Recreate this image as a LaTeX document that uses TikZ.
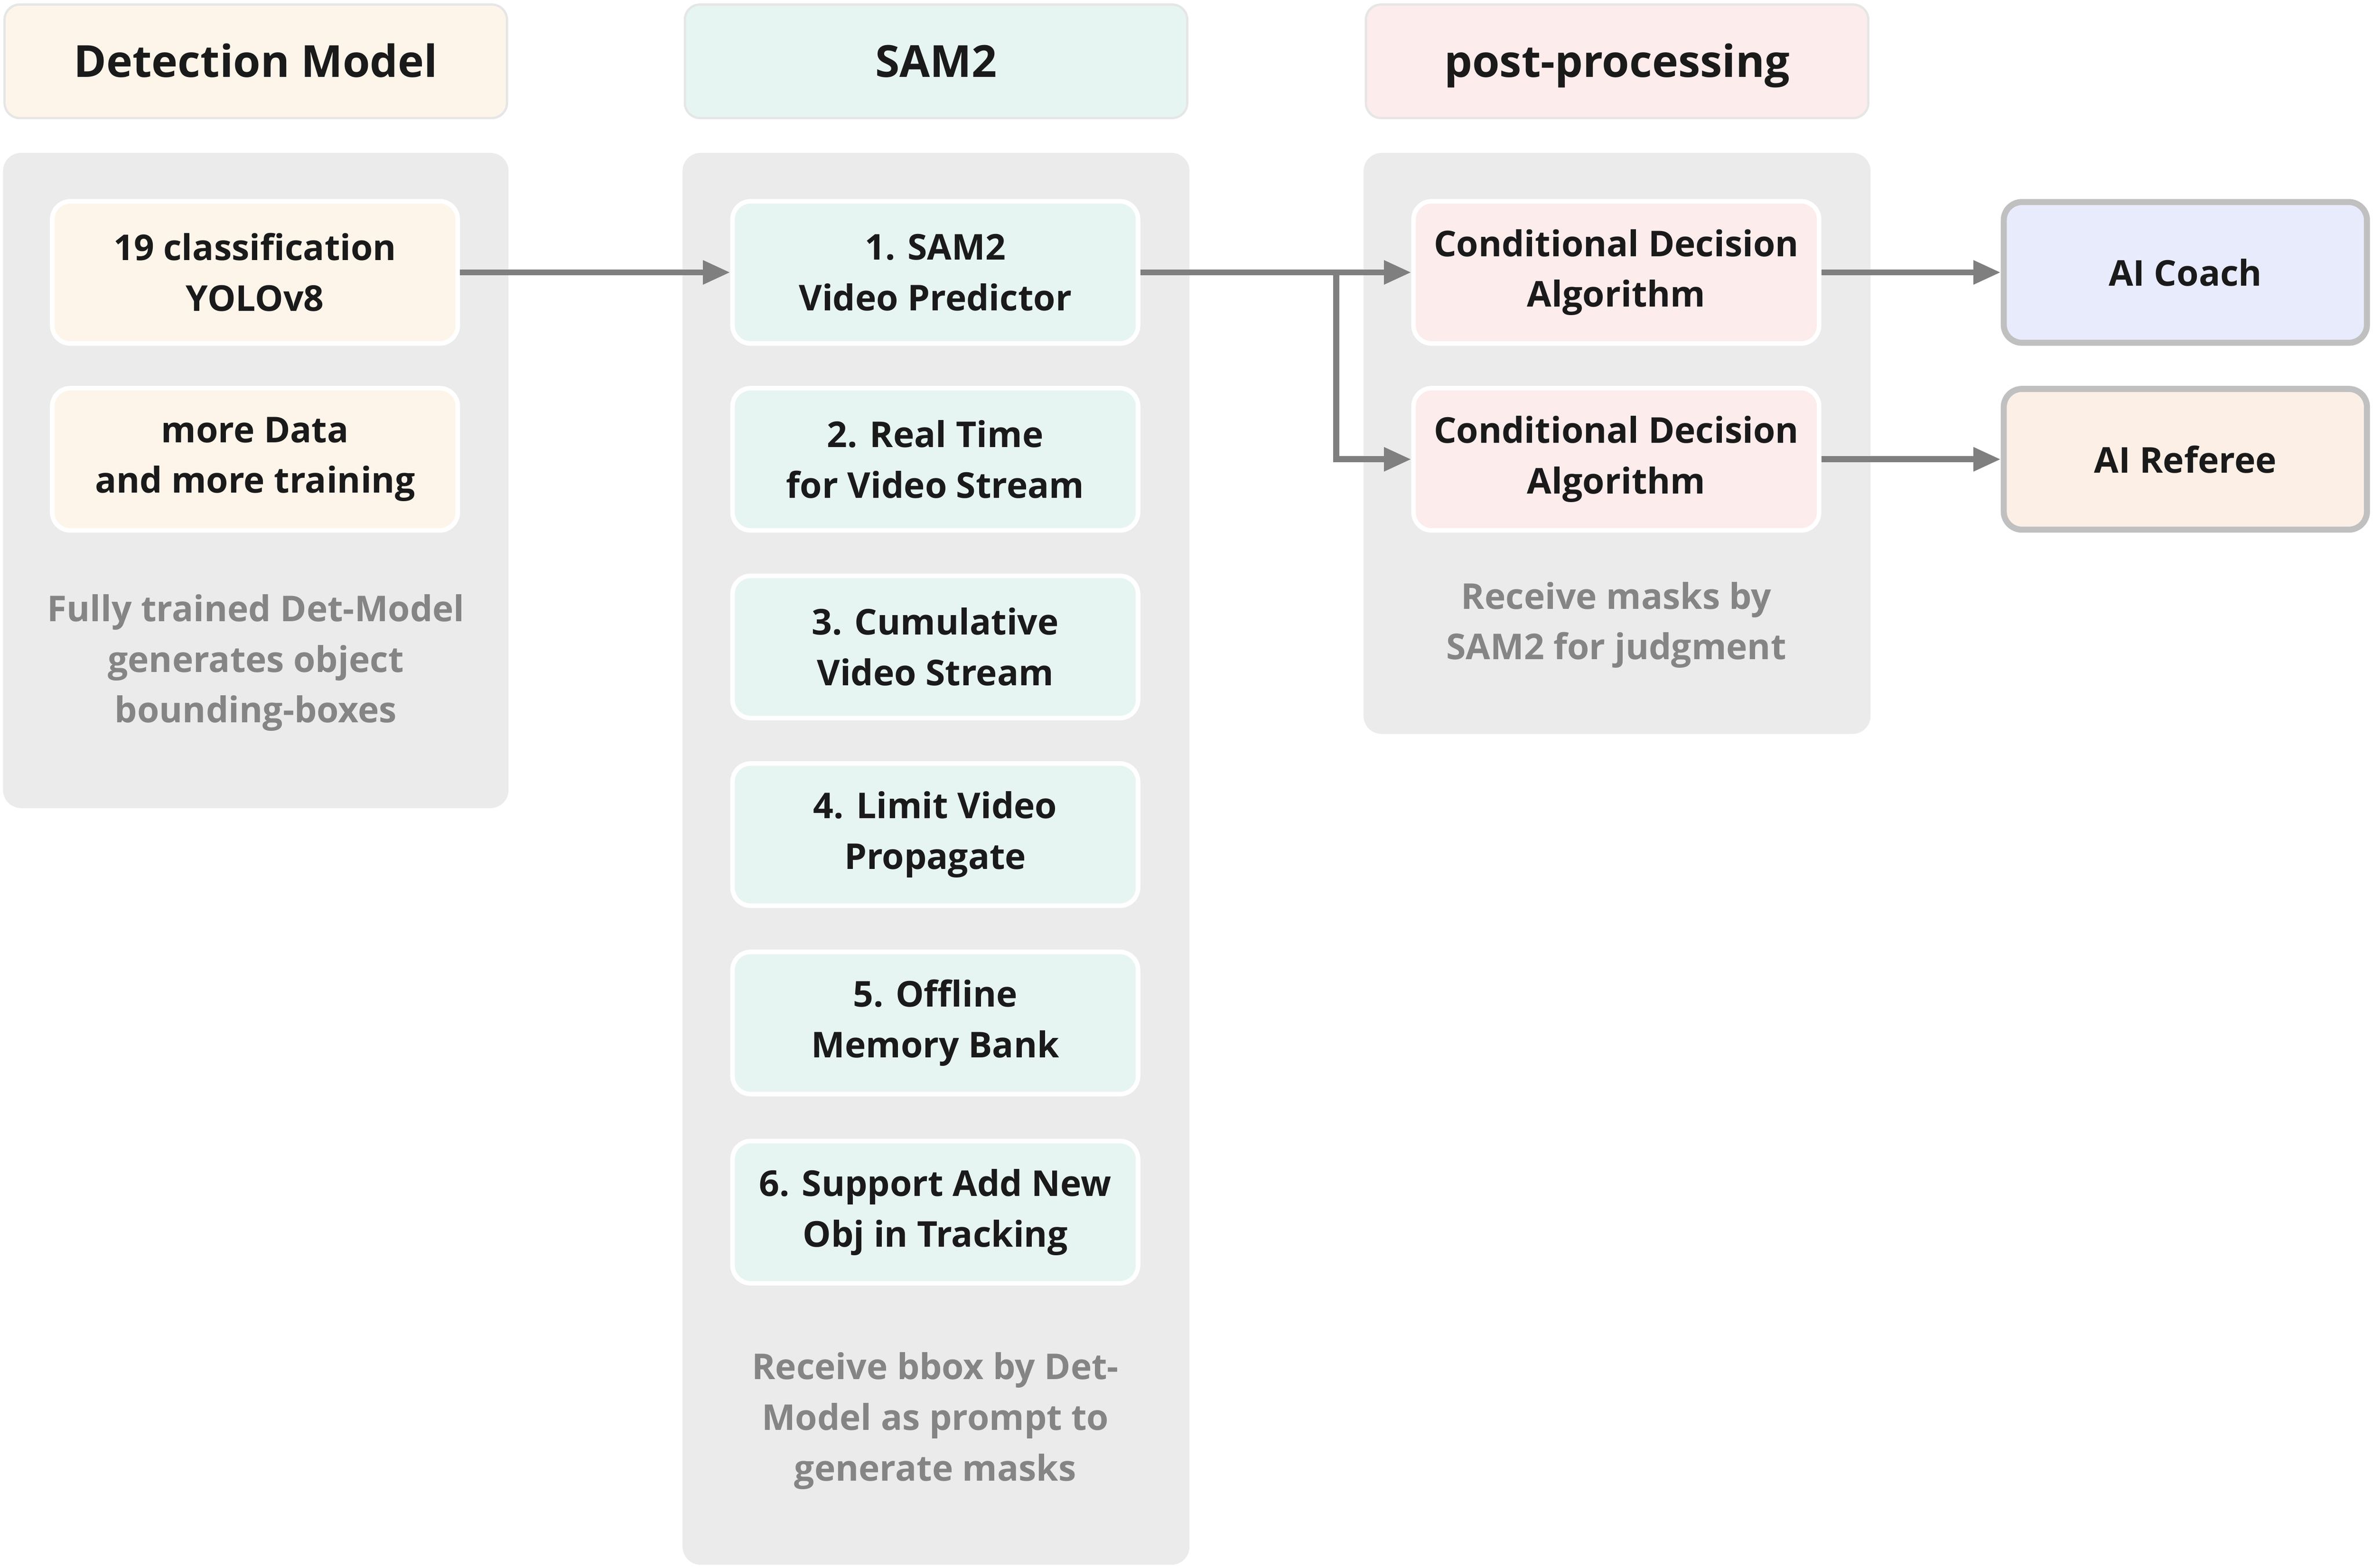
\documentclass[tikz,border=0pt]{standalone}
\usepackage{fontspec}
\setmainfont{Open Sans}
\usepackage{tikz}
\usepackage{xcolor}
\usetikzlibrary{positioning, arrows.meta}

\definecolor{detfill}{HTML}{FEF5EA}
\definecolor{samfill}{HTML}{E7F5F2}
\definecolor{postfill}{HTML}{FDECEC}
\definecolor{panelgray}{HTML}{EBEBEB}
\definecolor{headline}{HTML}{E6E6E6}
\definecolor{arrowgray}{HTML}{7F7F7F}
\definecolor{notegray}{HTML}{858585}
\definecolor{coachfill}{HTML}{E8EBFC}
\definecolor{refereefill}{HTML}{FCEFE6}
\definecolor{outgray}{HTML}{C0C0C0}
\definecolor{inktext}{HTML}{1A1A1A}

\begin{document}
\begin{tikzpicture}[x=1pt, y=-1pt,
    header/.style={rectangle, rounded corners=10pt, draw=headline, line width=1.5pt, minimum width=332pt, minimum height=75pt, text height=24pt, text depth=3pt, font=\fontsize{29.2}{35}\selectfont\bfseries, text=inktext},
    stepbox/.style={rectangle, rounded corners=12pt, draw=white, line width=3pt, minimum width=268pt, minimum height=94pt, align=center, font=\fontsize{23.5}{33.5}\selectfont\bfseries, text=inktext},
    outbox/.style={rectangle, rounded corners=12pt, draw=outgray, line width=4pt, minimum width=240pt, minimum height=93pt, align=center, font=\fontsize{23.5}{33.5}\selectfont\bfseries, text=inktext},
    note/.style={align=center, font=\fontsize{23.5}{33.5}\selectfont\bfseries, text=notegray},
    flow/.style={draw=arrowgray, line width=4pt, -{Triangle[length=18pt, width=15pt]}}]

    \useasboundingbox (0, 0) rectangle (1568, 1036);

    % column panels
    \fill[panelgray, rounded corners=12pt] (2, 101) rectangle (336, 534);
    \fill[panelgray, rounded corners=12pt] (451, 101) rectangle (786, 1034);
    \fill[panelgray, rounded corners=12pt] (901, 101) rectangle (1236, 485);

    % headers
    \node[header, fill=detfill] (dethead) at (169, 40.5) {Detection Model};
    \node[header, fill=samfill] (samhead) at (618.5, 40.5) {SAM2};
    \node[header, fill=postfill] (posthead) at (1068.5, 40.5) {post-processing};

    % detection model
    \node[stepbox, fill=detfill] (yolo) at (168.5, 180) {19 classification\\YOLOv8};
    \node[stepbox, fill=detfill] (train) at (168.5, 303.5) {more Data\\and more training};
    \node[note] (detnote) at (169, 438) {Fully trained Det-Model\\generates object\\bounding-boxes};

    % sam2
    \node[stepbox, fill=samfill] (s1) at (618, 180) {1. SAM2\\Video Predictor};
    \node[stepbox, fill=samfill] (s2) at (618, 303.5) {2. Real Time\\for Video Stream};
    \node[stepbox, fill=samfill] (s3) at (618, 427.5) {3. Cumulative\\Video Stream};
    \node[stepbox, fill=samfill] (s4) at (618, 551.5) {4. Limit Video\\Propagate};
    \node[stepbox, fill=samfill] (s5) at (618, 676) {5. Offline\\Memory Bank};
    \node[stepbox, fill=samfill] (s6) at (618, 801) {6. Support Add New\\Obj in Tracking};
    \node[note] (samnote) at (618, 939) {Receive bbox by Det-\\Model as prompt to\\generate masks};

    % post-processing
    \node[stepbox, fill=postfill] (cd1) at (1068, 180) {Conditional Decision\\Algorithm};
    \node[stepbox, fill=postfill] (cd2) at (1068, 303.5) {Conditional Decision\\Algorithm};
    \node[note] (postnote) at (1068, 413) {Receive masks by\\SAM2 for judgment};

    % outputs
    \node[outbox, fill=coachfill] (coach) at (1444, 180) {AI Coach};
    \node[outbox, fill=refereefill] (referee) at (1444, 303.5) {AI Referee};

    \coordinate (split) at (883, 180);

    \draw[flow] (yolo) -- (s1);
    \draw[flow] (s1) -- (cd1);
    \draw[flow] (split) |- (cd2);
    \draw[flow] (cd1) -- (coach);
    \draw[flow] (cd2) -- (referee);
\end{tikzpicture}
\end{document}
